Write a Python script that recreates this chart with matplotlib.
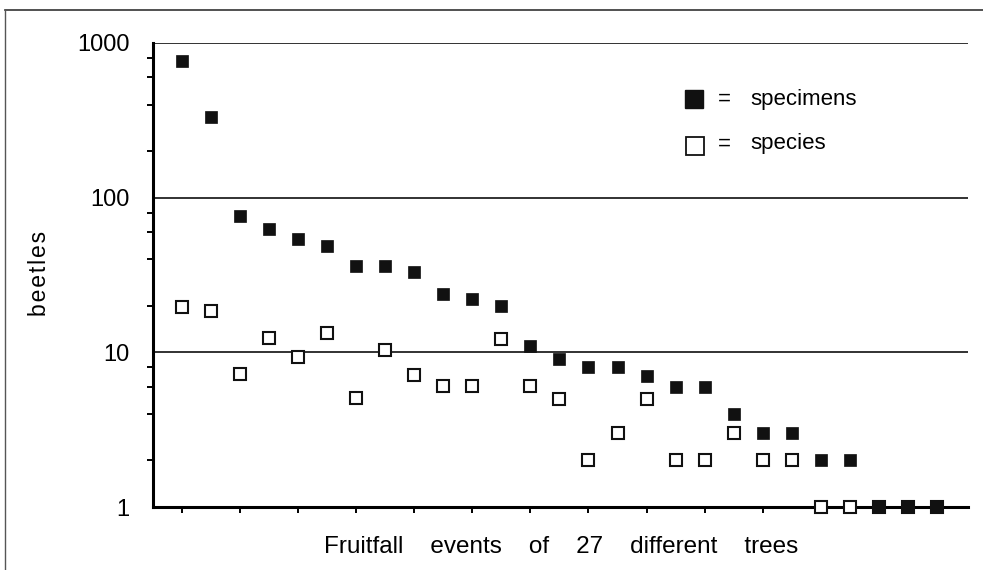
import numpy as np
import matplotlib
matplotlib.use("Agg")
from matplotlib import pyplot as plt
from matplotlib.lines import Line2D
from matplotlib.ticker import FixedLocator, NullFormatter

plt.rcParams['font.family'] = ['Liberation Sans', 'DejaVu Sans']

# 27 fruitfall events, sorted by number of specimens
trees = np.arange(1, 28)
specimens = [760, 330, 76, 63, 54, 49, 36, 36, 33, 24, 22, 20, 11, 9,
             8, 8, 7, 6, 6, 4, 3, 3, 2, 2, 1, 1, 1]
species = [19.5, 18.5, 7.2, 12.4, 9.3, 13.3, 5.1, 10.3, 7.1, 6.1, 6.1, 12.2, 6.1, 5,
           2, 3, 5, 2, 2, 3, 2, 2, 1, 1, 1, 1, 1]
grid_levels = [10, 100, 1000]

fig = plt.figure(figsize=(9.83, 5.70), dpi=100)
ax = fig.add_axes([0.1556, 0.1105, 0.8291, 0.8141])

for g in grid_levels:
    ax.axhline(g, color='#222222', lw=1.3, zorder=1)

ax.plot(trees, species, ls='none', marker='s', ms=8.5, mfc='white', mec='#111111',
        mew=1.5, clip_on=False, zorder=4)
ax.plot(trees, specimens, ls='none', marker='s', ms=8.5, mfc='#111111', mec='#111111',
        mew=0.5, clip_on=False, zorder=5)

ax.set_yscale('log')
ax.set_ylim(1, 1000)
ax.set_xlim(0, 28.07)

ax.spines['top'].set_visible(False)
ax.spines['right'].set_visible(False)
ax.spines['left'].set_linewidth(2.2)
ax.spines['bottom'].set_linewidth(2.2)
ax.spines['left'].set_zorder(3)
ax.spines['bottom'].set_zorder(3)

ax.yaxis.set_major_locator(FixedLocator([1, 10, 100, 1000]))
ax.set_yticklabels(['1', '10', '100', '1000'])
minor = [m * 10 ** e for e in range(3) for m in (2, 4, 6, 8)]
ax.yaxis.set_minor_locator(FixedLocator(minor))
ax.yaxis.set_minor_formatter(NullFormatter())
ax.tick_params(axis='y', which='major', length=0, pad=17, labelsize=17)
ax.tick_params(axis='y', which='minor', length=4, width=1.4, direction='out')

ax.set_xticks(trees[::2])
ax.set_xticklabels([])
ax.tick_params(axis='x', which='major', length=4, width=1.4, direction='out')
ax.tick_params(axis='x', which='minor', length=0)

fig.text(39 / 983, 1 - 273 / 570, '\u200a'.join('beetles'), rotation=90,
         ha='center', va='center', fontsize=16.5)
fig.text(561 / 983, 1 - 553 / 570,
         'Fruitfall    events    of    27    different    trees',
         ha='center', va='baseline', fontsize=17.5)

# hand-drawn style key
fig.add_artist(Line2D([694 / 983], [1 - 99 / 570], marker='s', ms=13.5,
                      mfc='#111111', mec='#111111', ls='none'))
fig.add_artist(Line2D([695 / 983], [1 - 146 / 570], marker='s', ms=13.5,
                      mfc='white', mec='#111111', mew=1.3, ls='none'))
fig.text(724 / 983, 1 - 99 / 570, '=', ha='center', va='center', fontsize=16)
fig.text(724 / 983, 1 - 144 / 570, '=', ha='center', va='center', fontsize=16)
fig.text(750 / 983, 1 - 99 / 570, 'specimens', ha='left', va='center', fontsize=16)
fig.text(750 / 983, 1 - 143 / 570, 'species', ha='left', va='center', fontsize=16)

# outer frame of the scanned figure
fig.add_artist(Line2D([0.005, 1.0], [1 - 10 / 570, 1 - 10 / 570], color='#333333', lw=1.2))
fig.add_artist(Line2D([0.005, 0.005], [1 - 10 / 570, 0.0], color='#555555', lw=1.0))

fig.savefig('out.png', dpi=100)
